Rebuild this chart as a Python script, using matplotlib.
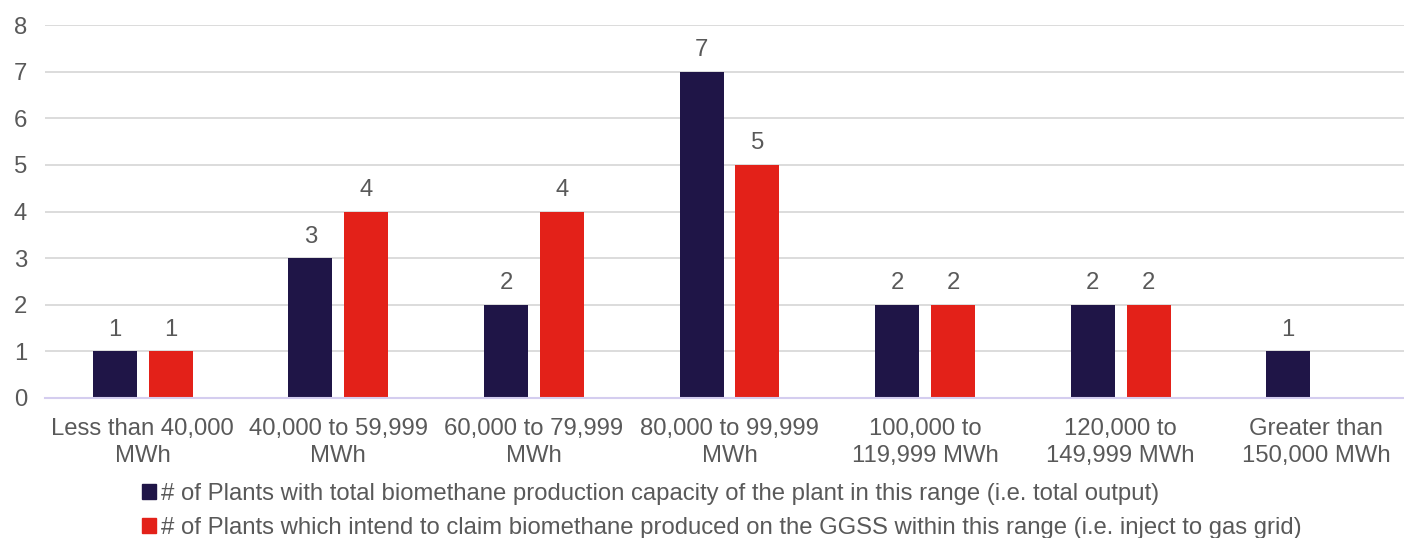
import numpy as np
import matplotlib.pyplot as plt
from matplotlib.patches import Patch

plt.rcParams['font.family'] = ['Liberation Sans', 'DejaVu Sans']

categories = ['Less than 40,000\nMWh', '40,000 to 59,999\nMWh', '60,000 to 79,999\nMWh',
              '80,000 to 99,999\nMWh', '100,000 to\n119,999 MWh', '120,000 to\n149,999 MWh',
              'Greater than\n150,000 MWh']
total_output = [1, 3, 2, 7, 2, 2, 1]
inject_grid = [1, 4, 4, 5, 2, 2, 0]
series_names = ['# of Plants with total biomethane production capacity of the plant in this range (i.e. total output)',
                '# of Plants which intend to claim biomethane produced on the GGSS within this range (i.e. inject to gas grid)']

navy = '#1f1547'
red = '#e32119'
grey = '#595959'
fs = 17.2

fig = plt.figure(figsize=(14.04, 5.38), dpi=100)
ax = fig.add_axes([45 / 1404, 140 / 538, 1369 / 1404, 373 / 538])

x = np.arange(len(categories))
w = 0.225
off = 0.143
b1 = ax.bar(x - off, total_output, w, color=navy)
b2 = ax.bar(x + off, inject_grid, w, color=red)

# value labels above bars, skipping empty ones
for bars, vals in ((b1, total_output), (b2, inject_grid)):
    for bar, v in zip(bars, vals):
        if v == 0:
            continue
        ax.annotate(str(v), (bar.get_x() + bar.get_width() / 2, v), xytext=(0, 7.5),
                    textcoords='offset points', ha='center', va='bottom',
                    fontsize=fs, color=grey)

ax.set_xlim(-0.5, len(categories) - 0.5)
ax.set_ylim(0, 8)
ax.set_yticks(range(9))
ax.grid(axis='y', color='#d9d9d9', linewidth=1.3)
ax.set_axisbelow(True)
for s in ('top', 'right', 'left'):
    ax.spines[s].set_visible(False)
ax.spines['bottom'].set_color('#d4cdef')
ax.spines['bottom'].set_linewidth(1.5)
ax.tick_params(length=0, labelsize=fs, labelcolor=grey)
ax.tick_params(axis='y', pad=13)
ax.tick_params(axis='x', pad=14.5)
ax.set_xticks(x)
ax.set_xticklabels(categories, linespacing=1.3)

handles = [Patch(color=navy), Patch(color=red)]
fig.legend(handles, series_names, loc='upper left', bbox_to_anchor=(142 / 1404, 1 - 483 / 538),
           frameon=False, fontsize=fs, labelcolor=grey, handlelength=0.6, handleheight=0.6,
           handletextpad=0.2, labelspacing=0.5, borderaxespad=0, borderpad=0)

fig.savefig('out.png', dpi=100)
